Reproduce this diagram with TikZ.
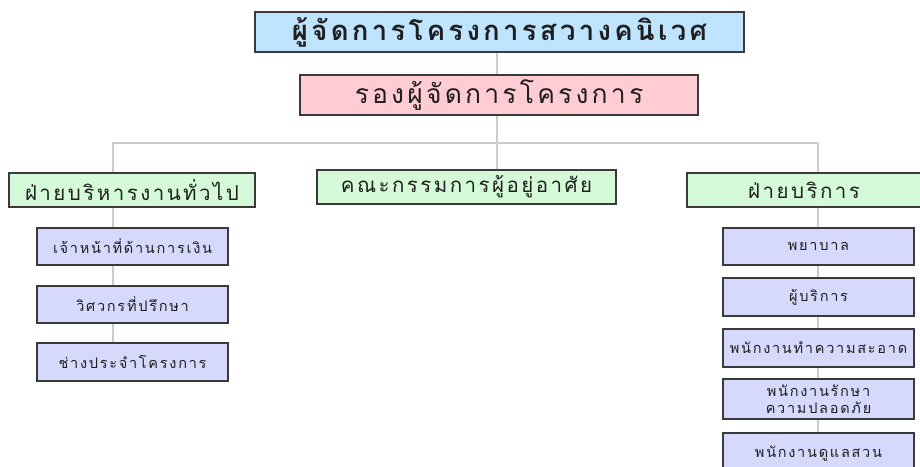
\documentclass[tikz,border=0pt]{standalone}
\usepackage{fontspec}
\newfontfamily\thai[Script=Thai,LetterSpace=12]{Loma}
\definecolor{topblue}{HTML}{BFE4FF}
\definecolor{vicepink}{HTML}{FFCCD3}
\definecolor{deptgreen}{HTML}{D4FAD8}
\definecolor{staffblue}{HTML}{D6D8FC}
\definecolor{linegray}{HTML}{CCCCCC}
\definecolor{edgegray}{HTML}{3A3A3A}
\tikzset{
  box/.style={draw=edgegray, line width=1.1pt, text=black!88, inner sep=0pt, align=center, font=\thai},
  topbox/.style={box, fill=topblue, minimum width=489pt, minimum height=40pt, font=\thai\fontsize{27.5}{30}\selectfont\bfseries},
  vicebox/.style={box, fill=vicepink, minimum width=398pt, minimum height=40pt, font=\thai\fontsize{26.5}{30}\selectfont},
  deptbox/.style={box, fill=deptgreen, minimum height=34pt, font=\thai\fontsize{20.5}{24}\selectfont},
  staffbox/.style={box, fill=staffblue, minimum width=191pt, font=\thai\fontsize{14.5}{16.5}\selectfont},
  conn/.style={draw=linegray, line width=2pt}
}
\begin{document}
\begin{tikzpicture}[x=1pt,y=1pt]
\useasboundingbox (0,0) rectangle (920,-466);
\coordinate (hL) at (113,-143);
\coordinate (hC) at (497,-143);
\coordinate (hR) at (818,-143);
% nodes
\node[topbox] (top) at (499.5,-32) {ผู้จัดการโครงการสวางคนิเวศ};
\node[vicebox] (vice) at (499,-95) {รองผู้จัดการโครงการ};
\node[deptbox, minimum width=246pt] (gen) at (132,-190) {ฝ่ายบริหารงานทั่วไป};
\node[deptbox, minimum width=299pt] (res) at (466.5,-187) {คณะกรรมการผู้อยู่อาศัย};
\node[deptbox, minimum width=234pt] (svc) at (804,-190) {ฝ่ายบริการ};
\node[staffbox, minimum height=37pt] (l1) at (132.5,-246.5) {เจ้าหน้าที่ด้านการเงิน};
\node[staffbox, minimum height=37pt] (l2) at (132.5,-304.5) {วิศวกรที่ปรึกษา};
\node[staffbox, minimum height=38pt] (l3) at (132.5,-362) {ช่างประจำโครงการ};
\node[staffbox, minimum height=37pt] (r1) at (818.5,-246.5) {พยาบาล};
\node[staffbox, minimum height=38pt] (r2) at (818.5,-297) {ผู้บริการ};
\node[staffbox, minimum height=38pt] (r3) at (818.5,-348) {พนักงานทำความสะอาด};
\node[staffbox, minimum height=40pt] (r4) at (818.5,-399) {พนักงานรักษา\\ความปลอดภัย};
\node[staffbox, minimum height=42pt] (r5) at (818.5,-454) {พนักงานดูแลสวน};
% connectors
\draw[conn] (top.south -| hC) -- (vice.north -| hC);
\draw[conn] (vice.south -| hC) -- (hC);
\draw[conn] (gen.north -| hL) -- (hL) -- (hR) -- (svc.north -| hR);
\draw[conn] (hC) -- (res.north -| hC);
\draw[conn] (gen.south -| hL) -- (l1.north -| hL);
\draw[conn] (l1.south -| hL) -- (l2.north -| hL);
\draw[conn] (l2.south -| hL) -- (l3.north -| hL);
\draw[conn] (svc.south -| hR) -- (r1.north -| hR);
\draw[conn] (r1.south -| hR) -- (r2.north -| hR);
\draw[conn] (r2.south -| hR) -- (r3.north -| hR);
\draw[conn] (r3.south -| hR) -- (r4.north -| hR);
\draw[conn] (r4.south -| hR) -- (r5.north -| hR);
\end{tikzpicture}
\end{document}
